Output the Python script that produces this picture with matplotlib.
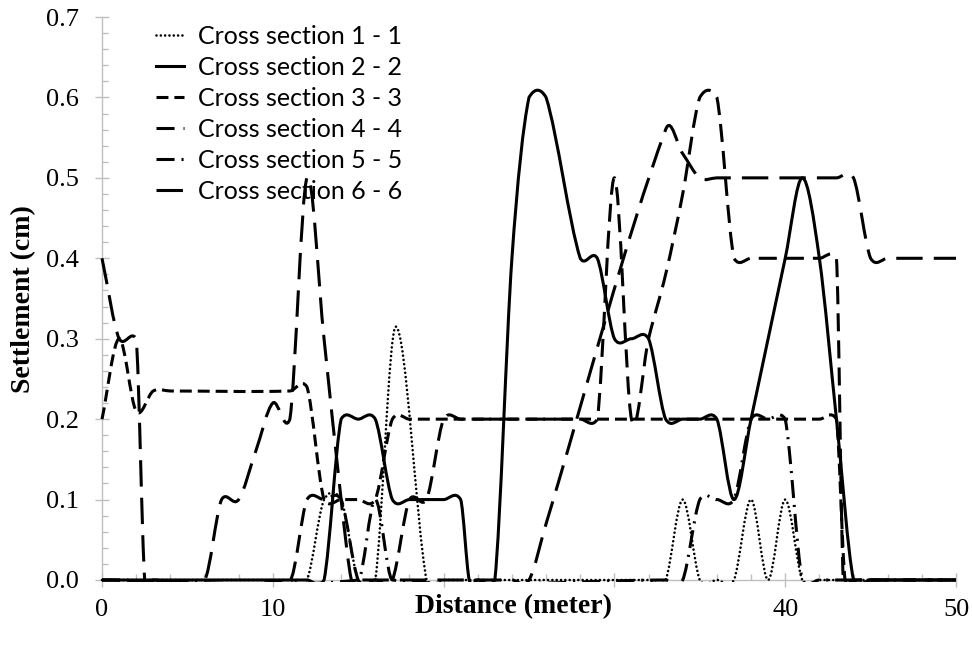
import numpy as np
import matplotlib
matplotlib.use("Agg")
import matplotlib.pyplot as plt
from matplotlib.path import Path
from matplotlib.patches import PathPatch, Rectangle
from matplotlib.lines import Line2D

plt.rcParams['lines.scale_dashes'] = False

# settlement (cm) along distance (m), one pair of arrays per cross section
x1 = [0, 11, 12, 13, 14, 15, 16, 17.2, 19, 20, 32, 33, 34, 35, 36, 37, 38, 39, 40, 41, 42, 50]
y1 = [0, 0, 0, 0.1, 0.1, 0, 0, 0.315, 0, 0, 0, 0, 0.1, 0, 0, 0, 0.1, 0, 0.1, 0, 0, 0]

x2 = [0, 12, 13, 14, 15, 16, 17, 18, 20, 21, 21.5, 22, 23, 24, 25, 26, 28, 29, 30, 31, 32,
      33, 34, 35, 36, 37, 38, 39, 40, 41, 42, 43, 44, 45, 50]
y2 = [0, 0, 0, 0.2, 0.2, 0.2, 0.1, 0.1, 0.1, 0.1, 0, 0, 0, 0.4, 0.6, 0.6, 0.4, 0.4, 0.3, 0.3, 0.3,
      0.2, 0.2, 0.2, 0.2, 0.1, 0.2, 0.3, 0.4, 0.5, 0.4, 0.2, 0, 0, 0]

x3 = [0, 1, 2, 3, 4, 11, 12, 13, 14, 15, 16, 17, 18, 42, 43, 43.5, 44, 50]
y3 = [0.2, 0.3, 0.21, 0.235, 0.235, 0.235, 0.24, 0.1, 0.1, 0.1, 0.1, 0.2, 0.2, 0.2, 0.2, 0, 0, 0]

x4 = [0, 11, 12, 13, 14, 15, 16, 17, 18, 19, 20, 21, 28, 29, 30, 31, 32, 33, 34, 35, 36, 37,
      38, 42, 43, 43.4, 44, 50]
y4 = [0, 0, 0.1, 0.1, 0.1, 0, 0, 0, 0.1, 0.1, 0.2, 0.2, 0.2, 0.2, 0.5, 0.2, 0.3, 0.38, 0.48, 0.6, 0.6, 0.4,
      0.4, 0.4, 0.4, 0, 0, 0]

x5 = [0, 15, 16, 17, 33, 34, 35, 36, 37, 38, 39, 40, 41, 42, 50]
y5 = [0, 0, 0.1, 0, 0, 0, 0.1, 0.1, 0.1, 0.2, 0.2, 0.2, 0, 0, 0]

x6 = [0, 1, 2, 2.5, 3, 6, 7, 8, 9, 10, 11, 12, 13, 14, 14.6, 15, 24, 25, 26, 33, 34, 35, 36,
      43, 44, 45, 46, 50]
y6 = [0.4, 0.3, 0.3, 0, 0, 0, 0.1, 0.1, 0.16, 0.22, 0.2, 0.5, 0.3, 0.1, 0, 0, 0, 0, 0.07, 0.56, 0.53, 0.5, 0.5,
      0.5, 0.5, 0.4, 0.4, 0.4]

labels = ['Cross section 1 - 1', 'Cross section 2 - 2', 'Cross section 3 - 3',
          'Cross section 4 - 4', 'Cross section 5 - 5', 'Cross section 6 - 6']

# 20 and 30 sit under the axis title in the original, so they are not printed
xtick_values = [0, 10, 20, 30, 40, 50]
xtick_labels = ['0', '10', '', '', '40', '50']


def smooth_path(xs, ys):
    """Excel-like smoothed line: cubic bezier through the data points"""
    xs = np.asarray(xs, float)
    ys = np.asarray(ys, float)
    n = len(xs)
    m = np.zeros(n)
    m[0] = (ys[1] - ys[0]) / (xs[1] - xs[0])
    m[-1] = (ys[-1] - ys[-2]) / (xs[-1] - xs[-2])
    m[1:-1] = (ys[2:] - ys[:-2]) / (xs[2:] - xs[:-2])
    verts = [(xs[0], ys[0])]
    codes = [Path.MOVETO]
    for i in range(n - 1):
        dx = xs[i + 1] - xs[i]
        lim = max(abs(ys[i + 1] - ys[i]), 0.012)
        a = np.clip(dx / 3 * m[i], -lim, lim)
        b = np.clip(dx / 3 * m[i + 1], -lim, lim)
        verts += [(xs[i] + dx / 3, ys[i] + a), (xs[i + 1] - dx / 3, ys[i + 1] - b),
                  (xs[i + 1], ys[i + 1])]
        codes += [Path.CURVE4] * 3
    return Path(verts, codes)


styles = [
    dict(ls=(0, (0.01, 3.1)), lw=1.9, cap='round'),
    dict(ls='-', lw=2.2, cap='butt'),
    dict(ls=(0, (8.6, 4.3)), lw=2.2, cap='butt'),
    dict(ls=(0, (13, 6.5)), lw=2.2, cap='butt'),
    dict(ls=(0, (13, 5, 1.5, 5)), lw=2.2, cap='butt'),
    dict(ls=(0, (19, 8)), lw=2.2, cap='butt'),
]
series = [(x1, y1), (x2, y2), (x3, y3), (x4, y4), (x5, y5), (x6, y6)]

fig = plt.figure(figsize=(9.72, 6.52), dpi=100)
ax = fig.add_axes([102 / 972, 72 / 652, 854 / 972, 563 / 652])
ax.set_xlim(0, 50)
ax.set_ylim(0, 0.7)

clip_rect = Rectangle((-1, -0.003), 52, 0.72, transform=ax.transData)
handles = []
for (xs, ys), st, lab in zip(series, styles, labels):
    patch = PathPatch(smooth_path(xs, ys), fill=False, edgecolor='black',
                      linewidth=st['lw'], linestyle=st['ls'], capstyle=st['cap'],
                      zorder=3)
    ax.add_patch(patch)
    patch.set_clip_path(clip_rect)
    handles.append(Line2D([], [], color='black', lw=st['lw'], linestyle=st['ls'],
                          dash_capstyle=st['cap'], label=lab))

for side in ['top', 'right']:
    ax.spines[side].set_visible(False)
for side in ['left', 'bottom']:
    ax.spines[side].set_color('#BFBFBF')
    ax.spines[side].set_linewidth(1.0)

ax.set_xticks(xtick_values)
ax.set_xticklabels(xtick_labels)
ax.set_xticks(np.arange(0, 51, 2), minor=True)
ax.set_yticks(np.arange(0, 0.71, 0.1))
ax.set_yticks(np.arange(0, 0.71, 0.02), minor=True)
ax.set_yticklabels([f'{v:.1f}' for v in np.arange(0, 0.71, 0.1)])
ax.tick_params(which='major', direction='inout', length=9.5, width=1, color='#BFBFBF',
               labelsize=19)
ax.tick_params(which='minor', direction='in', length=4.5, width=1, color='#BFBFBF')
ax.tick_params(axis='y', which='major', pad=12)
ax.tick_params(axis='x', which='major', pad=9)
for t in ax.get_xticklabels() + ax.get_yticklabels():
    t.set_fontfamily('Liberation Serif')

fig.text(24 / 972, 1 - 299 / 652, 'Settlement (cm)', rotation=90, ha='center', va='center',
         fontsize=20, fontweight='bold', family='Liberation Serif')
fig.text(513 / 972, 1 - 607 / 652, 'Distance (meter)', ha='center', va='center',
         fontsize=20, fontweight='bold', family='Liberation Serif')

ax.legend(handles=handles, loc='upper left', bbox_to_anchor=(156 / 972, 1 - 25 / 652),
          bbox_transform=fig.transFigure, frameon=False, borderpad=0, borderaxespad=0,
          handlelength=1.1, handletextpad=0.6, labelspacing=0.32,
          prop={'family': 'Lato', 'size': 18})

fig.savefig('out.png', dpi=100)
